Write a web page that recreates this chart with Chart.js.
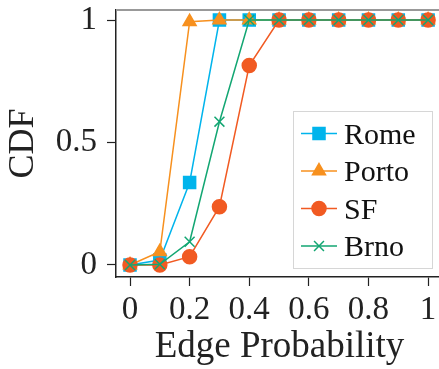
<!DOCTYPE html>
<html>
<head>
  <title>Edge Probability CDF</title>
  <script src="https://cdn.jsdelivr.net/npm/chart.js"></script>
  <style>
    html, body { margin: 0; padding: 0; overflow: hidden; background: #fff; }
    canvas { display: block; }
  </style>
</head>
<body>
  <canvas id="cdfChart" width="453" height="369"></canvas>

  <script>
    const edgeProb = [0, 0.1, 0.2, 0.3, 0.4, 0.5, 0.6, 0.7, 0.8, 0.9, 1];
    const rome  = [0, 0.02, 0.337, 1, 1, 1, 1, 1, 1, 1, 1];
    const porto = [0, 0.054, 0.993, 1, 1, 1, 1, 1, 1, 1, 1];
    const sf    = [0, 0, 0.034, 0.238, 0.814, 1, 1, 1, 1, 1, 1];
    const brno  = [0, 0.003, 0.095, 0.585, 1, 1, 1, 1, 1, 1, 1];
    const xTicks = [0, 0.2, 0.4, 0.6, 0.8, 1];
    const yTicks = [0, 0.5, 1];

    const serif = "'Liberation Serif', 'DejaVu Serif', serif";
    const pts = arr => arr.map((v, i) => ({ x: edgeProb[i], y: v }));

    // listed top-most first so Rome ends up underneath
    const series = [
      { label: 'Brno',  data: brno,  color: '#12a672', style: 'crossRot',  radius: 7 },
      { label: 'SF',    data: sf,    color: '#f15a22', style: 'circle',    radius: 7 },
      { label: 'Porto', data: porto, color: '#f7901e', style: 'triangle',  radius: 7.5 },
      { label: 'Rome',  data: rome,  color: '#00b4ec', style: 'rect',      radius: 8.5 }
    ];

    const legendBox = {
      id: 'legendBox',
      afterDraw(chart) {
        const c = chart.ctx;
        c.save();
        c.fillStyle = 'rgba(255,255,255,0.9)';
        c.strokeStyle = '#d6d6d6';
        c.lineWidth = 1;
        c.fillRect(293.5, 111.5, 139, 157);
        c.strokeRect(293.5, 111.5, 139, 157);
        const order = ['Rome', 'Porto', 'SF', 'Brno'];
        order.forEach((name, i) => {
          const s = series.find(d => d.label === name);
          const y = 133.5 + i * 37.5;
          c.strokeStyle = s.color;
          c.lineWidth = 1.5;
          c.beginPath();
          c.moveTo(301, y);
          c.lineTo(337, y);
          c.stroke();
          c.fillStyle = s.color;
          Chart.helpers.drawPoint(c, { pointStyle: s.style, radius: s.radius, borderWidth: 1.5 }, 319, y);
          c.fillStyle = '#111';
          c.font = '30px ' + serif;
          c.textBaseline = 'alphabetic';
          c.fillText(name, 344, y + 10);
        });
        c.restore();
      }
    };

    const topLine = {
      id: 'topLine',
      afterDraw(chart) {
        const a = chart.chartArea;
        const c = chart.ctx;
        c.save();
        c.strokeStyle = '#999';
        c.lineWidth = 2;
        c.beginPath();
        c.moveTo(a.left, a.top);
        c.lineTo(a.right + 2, a.top);
        c.stroke();
        c.restore();
      }
    };

    new Chart(document.getElementById('cdfChart'), {
      type: 'line',
      data: {
        datasets: series.map(s => ({
          label: s.label,
          data: pts(s.data),
          borderColor: s.color,
          backgroundColor: s.color,
          pointBackgroundColor: s.color,
          pointBorderColor: s.color,
          pointStyle: s.style,
          pointRadius: s.radius,
          pointBorderWidth: 1.5,
          borderWidth: 1.5,
          tension: 0
        }))
      },
      options: {
        responsive: false,
        devicePixelRatio: 1,
        animation: false,
        layout: { padding: { top: 7, right: 0, left: 0, bottom: 0 } },
        plugins: { legend: { display: false }, tooltip: { enabled: false } },
        scales: {
          x: {
            type: 'linear',
            min: -0.047,
            max: 1.05,
            afterBuildTicks: s => { s.ticks = xTicks.map(v => ({ value: v })); },
            afterFit: s => { s.height = 92; s.paddingLeft = 0; s.paddingRight = 0; },
            border: { color: '#222', width: 1.5 },
            grid: { drawOnChartArea: false, tickLength: 9, color: '#222', tickWidth: 1.2 },
            ticks: { color: '#222', padding: 5, maxRotation: 0, font: { family: serif, size: 33 },
                     callback: v => String(v) },
            title: { display: true, text: 'Edge Probability', color: '#222', padding: { top: 0, bottom: 0 },
                     font: { family: serif, size: 37 } }
          },
          y: {
            min: -0.049,
            max: 1.041,
            afterBuildTicks: s => { s.ticks = yTicks.map(v => ({ value: v })); },
            afterFit: s => { s.width = 116; s.paddingTop = 0; s.paddingBottom = 0; },
            border: { color: '#222', width: 1.5 },
            grid: { drawOnChartArea: false, tickLength: 9, color: '#222', tickWidth: 1.2 },
            ticks: { color: '#222', padding: 10, font: { family: serif, size: 33 },
                     callback: v => String(v) },
            title: { display: true, text: 'CDF', color: '#222', padding: { top: 2, bottom: 0 },
                     font: { family: serif, size: 36 } }
          }
        }
      },
      plugins: [topLine, legendBox]
    });
  </script>
</body>
</html>
